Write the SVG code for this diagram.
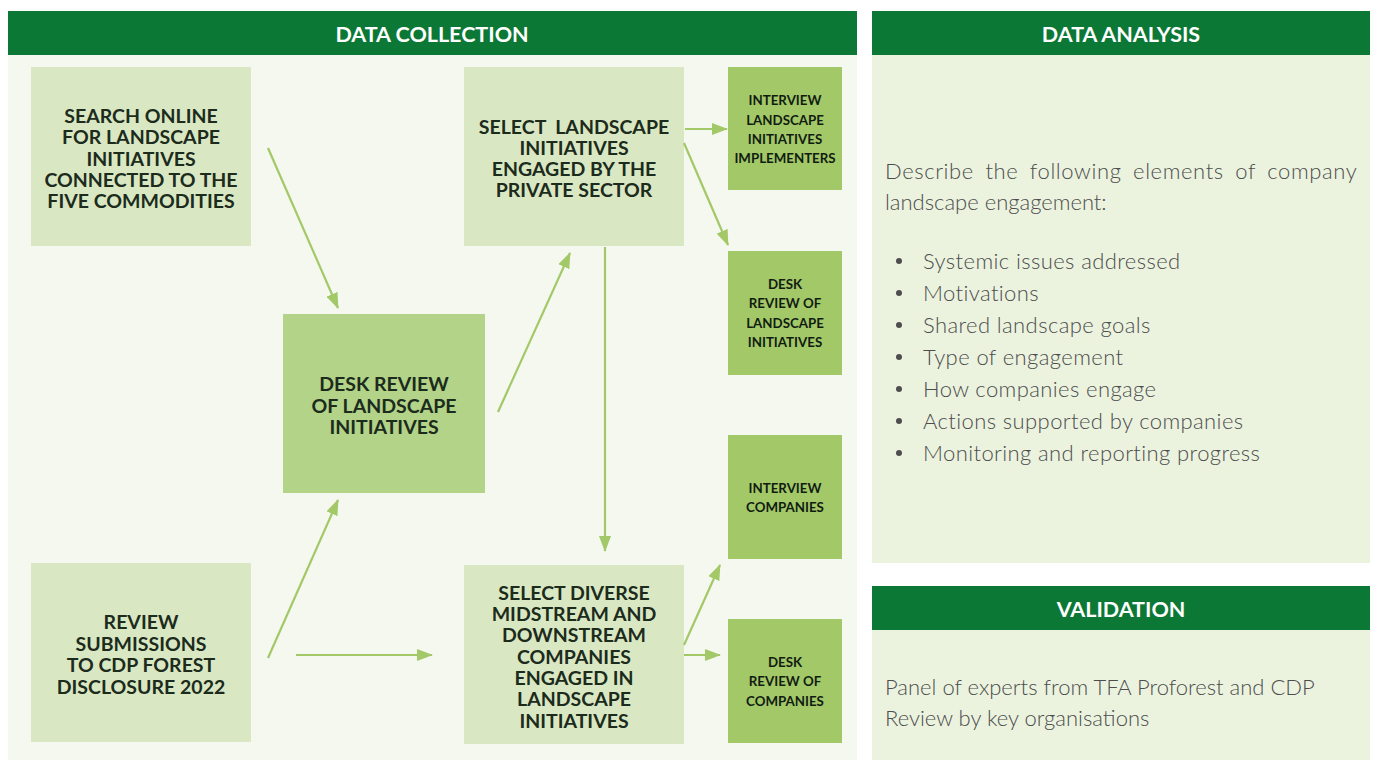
<svg xmlns="http://www.w3.org/2000/svg" width="1375" height="760" viewBox="0 0 1375 760">
<style>
.hdr{fill:#0b7835}
.hdrt{font-family:"Lato","Liberation Sans",sans-serif;font-weight:700;font-size:21.5px;fill:#ffffff;text-anchor:middle;dominant-baseline:central}
.light{fill:#d9e8c3}
.mid{fill:#b2d388}
.dark{fill:#a3c868}
.nt{font-family:"Lato","Liberation Sans",sans-serif;font-weight:700;font-size:19.5px;fill:#1c2b1c;text-anchor:middle;dominant-baseline:central}
.st{font-family:"Lato","Liberation Sans",sans-serif;font-weight:700;font-size:13.3px;fill:#111c11;text-anchor:middle;dominant-baseline:central}
.bt{font-family:"Lato","Liberation Sans",sans-serif;font-weight:300;font-size:22px;fill:#4d4d4d;dominant-baseline:central}
.bl{letter-spacing:0.4px}
.conn line{stroke:#a3c868;stroke-width:2.2;fill:none}
</style>
<defs>
<marker id="ah" markerUnits="userSpaceOnUse" markerWidth="16" markerHeight="12" refX="15" refY="6" orient="auto">
<path d="M0,0 L16,6 L0,12 Z" fill="#a3c868"/>
</marker>
</defs>
<rect width="1375" height="760" fill="#ffffff"/>
<g id="data-collection">
<rect x="8" y="55" width="849" height="705" fill="#f5f8ef"/>
<rect class="hdr" x="8" y="11" width="849" height="44"/>
<text class="hdrt" x="432" y="34">DATA COLLECTION</text>
</g>
<g id="data-analysis">
<rect x="872" y="55" width="498" height="508" fill="#ebf3df"/>
<rect class="hdr" x="872" y="11" width="498" height="44"/>
<text class="hdrt" x="1121" y="34">DATA ANALYSIS</text>
<text class="bt" x="885" y="170" style="word-spacing:5px;letter-spacing:0.6px">Describe the following elements of company</text>
<text class="bt" x="885" y="201">landscape engagement:</text>
<g fill="#4d4d4d">
<circle cx="899" cy="261" r="3"/><circle cx="899" cy="293" r="3"/><circle cx="899" cy="325" r="3"/><circle cx="899" cy="357" r="3"/><circle cx="899" cy="389" r="3"/><circle cx="899" cy="421" r="3"/><circle cx="899" cy="453" r="3"/>
</g>
<text class="bt bl" x="923" y="260">Systemic issues addressed</text>
<text class="bt bl" x="923" y="292">Motivations</text>
<text class="bt bl" x="923" y="324">Shared landscape goals</text>
<text class="bt bl" x="923" y="356">Type of engagement</text>
<text class="bt bl" x="923" y="388">How companies engage</text>
<text class="bt bl" x="923" y="420">Actions supported by companies</text>
<text class="bt bl" x="923" y="452">Monitoring and reporting progress</text>
</g>
<g id="validation">
<rect x="872" y="630" width="498" height="130" fill="#ebf3df"/>
<rect class="hdr" x="872" y="586" width="498" height="44"/>
<text class="hdrt" x="1121" y="609">VALIDATION</text>
<text class="bt" x="885" y="686">Panel of experts from TFA Proforest and CDP</text>
<text class="bt" x="885" y="717">Review by key organisations</text>
</g>
<g id="search-online">
<rect class="light" x="31" y="67" width="220" height="179"/>
<text class="nt" x="141" y="115">SEARCH ONLINE</text>
<text class="nt" x="141" y="136">FOR LANDSCAPE</text>
<text class="nt" x="141" y="158">INITIATIVES</text>
<text class="nt" x="141" y="179">CONNECTED TO THE</text>
<text class="nt" x="141" y="200">FIVE COMMODITIES</text>
</g>
<g id="review-submissions">
<rect class="light" x="31" y="563" width="220" height="179"/>
<text class="nt" x="141" y="621">REVIEW</text>
<text class="nt" x="141" y="643">SUBMISSIONS</text>
<text class="nt" x="141" y="664">TO CDP FOREST</text>
<text class="nt" x="141" y="686">DISCLOSURE 2022</text>
</g>
<g id="desk-review">
<rect class="mid" x="283" y="314" width="202" height="179"/>
<text class="nt" x="384" y="383">DESK REVIEW</text>
<text class="nt" x="384" y="405">OF LANDSCAPE</text>
<text class="nt" x="384" y="426">INITIATIVES</text>
</g>
<g id="select-landscape">
<rect class="light" x="464" y="67" width="220" height="179"/>
<text class="nt" x="574" y="126" xml:space="preserve">SELECT  LANDSCAPE</text>
<text class="nt" x="574" y="147">INITIATIVES</text>
<text class="nt" x="574" y="168">ENGAGED BY THE</text>
<text class="nt" x="574" y="189">PRIVATE SECTOR</text>
</g>
<g id="select-diverse">
<rect class="light" x="464" y="565" width="220" height="179"/>
<text class="nt" x="574" y="592">SELECT DIVERSE</text>
<text class="nt" x="574" y="613">MIDSTREAM AND</text>
<text class="nt" x="574" y="634">DOWNSTREAM</text>
<text class="nt" x="574" y="656">COMPANIES</text>
<text class="nt" x="574" y="677">ENGAGED IN</text>
<text class="nt" x="574" y="698">LANDSCAPE</text>
<text class="nt" x="574" y="720">INITIATIVES</text>
</g>
<g id="interview-landscape">
<rect class="dark" x="728" y="67" width="114" height="123"/>
<text class="st" x="785" y="100">INTERVIEW</text>
<text class="st" x="785" y="120">LANDSCAPE</text>
<text class="st" x="785" y="139">INITIATIVES</text>
<text class="st" x="785" y="158">IMPLEMENTERS</text>
</g>
<g id="desk-review-landscape">
<rect class="dark" x="728" y="251" width="114" height="124"/>
<text class="st" x="785" y="284">DESK</text>
<text class="st" x="785" y="303">REVIEW OF</text>
<text class="st" x="785" y="323">LANDSCAPE</text>
<text class="st" x="785" y="342">INITIATIVES</text>
</g>
<g id="interview-companies">
<rect class="dark" x="728" y="435" width="114" height="124"/>
<text class="st" x="785" y="488">INTERVIEW</text>
<text class="st" x="785" y="507">COMPANIES</text>
</g>
<g id="desk-review-companies">
<rect class="dark" x="728" y="619" width="114" height="124"/>
<text class="st" x="785" y="662">DESK</text>
<text class="st" x="785" y="681">REVIEW OF</text>
<text class="st" x="785" y="701">COMPANIES</text>
</g>
<g class="conn" id="connectors">
<line x1="268" y1="148" x2="338" y2="308" marker-end="url(#ah)"/>
<line x1="268" y1="658" x2="338" y2="500" marker-end="url(#ah)"/>
<line x1="498" y1="412" x2="570" y2="253" marker-end="url(#ah)"/>
<line x1="605" y1="247" x2="605" y2="551" marker-end="url(#ah)"/>
<line x1="296" y1="655" x2="432" y2="655" marker-end="url(#ah)"/>
<line x1="685" y1="129" x2="727" y2="129" marker-end="url(#ah)"/>
<line x1="684" y1="143" x2="728" y2="245" marker-end="url(#ah)"/>
<line x1="684" y1="645" x2="720" y2="565" marker-end="url(#ah)"/>
<line x1="684" y1="655" x2="720" y2="655" marker-end="url(#ah)"/>
</g>
</svg>
